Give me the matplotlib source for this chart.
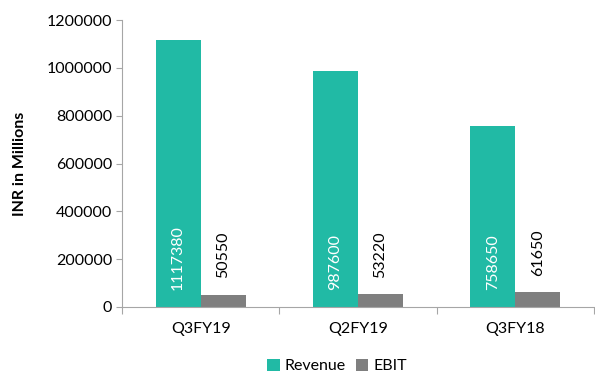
import numpy as np
import matplotlib.pyplot as plt
from matplotlib.ticker import FuncFormatter

plt.rcParams['font.family'] = ['Lato', 'DejaVu Sans']

quarters = ['Q3FY19', 'Q2FY19', 'Q3FY18']
revenue = [1117380, 987600, 758650]
ebit = [50550, 53220, 61650]

teal = '#21BAA5'
grey = '#7F7F7F'
axc = '#A6A6A6'

fig = plt.figure(figsize=(5.95, 3.73), dpi=100)
ax = fig.add_axes([122/595, (373-307)/373, (594-122)/595, (307-20)/373])

x = np.arange(len(quarters))
w = 0.287
rb = ax.bar(x - w/2, revenue, w, color=teal, label='Revenue')
eb = ax.bar(x + w/2, ebit, w, color=grey, label='EBIT')

for xi, v in zip(x, revenue):
    ax.text(xi - w/2, 72000, str(v), rotation=90, ha='center', va='bottom',
            color='white', fontsize=11.5)
for xi, v in zip(x, ebit):
    ax.text(xi + w/2, v + 70000, str(v), rotation=90, ha='center', va='bottom',
            color='black', fontsize=11.5)

ax.set_xlim(-0.5, 2.5)
ax.set_ylim(0, 1200000)
ax.set_yticks(range(0, 1200001, 200000))
ax.yaxis.set_major_formatter(FuncFormatter(lambda v, p: '%d' % v))
ax.tick_params(axis='y', labelsize=11.5, length=4, color=axc, pad=3)
ax.set_xticks([-0.5, 0.5, 1.5, 2.5], minor=False)
ax.set_xticklabels([])
ax.tick_params(axis='x', length=5, color=axc)
ax.set_xticks(x, minor=True)
ax.set_xticklabels(quarters, minor=True)
ax.tick_params(axis='x', which='minor', length=0, labelsize=11.5, pad=11)

for s in ['top', 'right']:
    ax.spines[s].set_visible(False)
ax.spines['left'].set_color(axc)
ax.spines['bottom'].set_color(axc)

ax.set_ylabel('INR in Millions', fontsize=11.5, fontweight='bold', labelpad=14)

fig.legend(handles=[rb, eb], loc='center', bbox_to_anchor=(337/595, 1 - 366/373),
           ncol=2, frameon=False, fontsize=11.5, handlelength=0.8, handleheight=0.8,
           handletextpad=0.3, columnspacing=0.6)

fig.savefig('out.png', dpi=100)
